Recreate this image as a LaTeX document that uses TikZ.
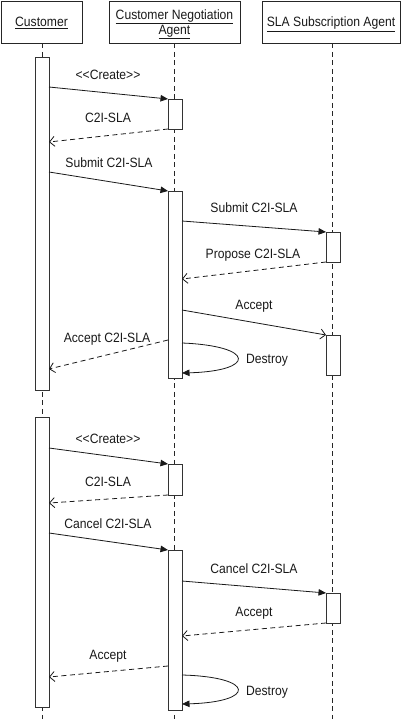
\documentclass[tikz,border=0pt]{standalone}
\usepackage{fontspec}
\setmainfont[FakeStretch=0.9]{Liberation Sans}
\usetikzlibrary{arrows.meta}
\newcommand{\ltlt}{<\kern0pt<}
\newcommand{\gtgt}{>\kern0pt>}
\begin{document}
\begin{tikzpicture}[x=1pt,y=-1pt,
  txt/.style={font=\fontsize{13.5}{15}\selectfont, text=black!90},
  lbl/.style={txt, anchor=base, inner sep=0pt},
  head/.style={txt, draw=black!85, line width=0.9pt, minimum height=42pt, inner sep=0pt, text depth=0pt, align=center},
  act/.style={draw=black!80, fill=white, line width=0.9pt, minimum width=14pt, inner sep=0pt},
  life/.style={black!85, line width=0.9pt, dash pattern=on 5pt off 3.5pt},
  sync/.style={black!90, line width=0.8pt, -{Triangle[length=7.5pt,width=6.5pt]}},
  async/.style={black!90, line width=0.8pt, -{Straight Barb[length=5pt,width=10pt]}},
  reply/.style={async, dash pattern=on 5pt off 3.5pt}]
\useasboundingbox (0,0) rectangle (405,719);
% headers
\node[head, minimum width=81pt] (hc) at (41.5,22) {\underline{Customer}};
\node[head, minimum width=131pt] (hn) at (174.5,22) {\underline{Customer Negotiation}\\\underline{Agent}};
\node[head, minimum width=138pt] (hs) at (331,22) {\underline{SLA Subscription Agent}};
% lifelines
\coordinate (ec) at (42,719);
\coordinate (en) at (174,719);
\coordinate (es) at (332,719);
\draw[life] (hc.south -| ec) -- (ec);
\draw[life] (hn.south -| en) -- (en);
\draw[life] (hs.south -| es) -- (es);
% activations
\node[act, minimum height=333pt] (c1) at (42,223.5) {};
\node[act, minimum height=290pt] (c2) at (42,562) {};
\node[act, minimum height=30pt] (n1) at (175,114) {};
\node[act, minimum height=187pt] (n2) at (175,284.5) {};
\node[act, minimum height=31pt] (n3) at (175,479.5) {};
\node[act, minimum height=160pt] (n4) at (175,630) {};
\node[act, minimum height=30pt] (s1) at (333,247) {};
\node[act, minimum height=40pt] (s2) at (333,355) {};
\node[act, minimum height=30pt] (s3) at (333,608) {};
% message end points
\coordinate (a1) at (49,87);   \coordinate (b1) at (168,99);
\coordinate (a2) at (168,129); \coordinate (b2) at (49,142);
\coordinate (a3) at (49,172);  \coordinate (b3) at (168,191);
\coordinate (a4) at (182,221); \coordinate (b4) at (326,232);
\coordinate (a5) at (326,262); \coordinate (b5) at (182,279);
\coordinate (a6) at (182,310); \coordinate (b6) at (326,335);
\coordinate (a7) at (168,340); \coordinate (b7) at (49,369);
\coordinate (a8) at (182,343); \coordinate (b8) at (182,373);
\coordinate (a9) at (49,448);  \coordinate (b9) at (168,464);
\coordinate (a10) at (168,495); \coordinate (b10) at (49,503);
\coordinate (a11) at (49,533); \coordinate (b11) at (168,550);
\coordinate (a12) at (182,581); \coordinate (b12) at (326,593);
\coordinate (a13) at (326,623); \coordinate (b13) at (182,636);
\coordinate (a14) at (168,666); \coordinate (b14) at (49,677);
\coordinate (a15) at (182,675); \coordinate (b15) at (182,704);
% messages
\draw[sync] (a1) -- (b1);
\draw[reply] (a2) -- (b2);
\draw[sync] (a3) -- (b3);
\draw[sync] (a4) -- (b4);
\draw[reply] (a5) -- (b5);
\draw[async] (a6) -- (b6);
\draw[reply] (a7) -- (b7);
\draw[sync] (a8) .. controls (256,346) and (256,371) .. (b8);
\draw[sync] (a9) -- (b9);
\draw[reply] (a10) -- (b10);
\draw[sync] (a11) -- (b11);
\draw[sync] (a12) -- (b12);
\draw[reply] (a13) -- (b13);
\draw[reply] (a14) -- (b14);
\draw[sync] (a15) .. controls (256,677) and (256,702) .. (b15);
% labels
\node[lbl] (l1) at (108,80) {\ltlt Create\gtgt};
\node[lbl] (l2) at (108,122.5) {C2I-SLA};
\node[lbl] (l3) at (109,168) {Submit C2I-SLA};
\node[lbl] (l4) at (254,213) {Submit C2I-SLA};
\node[lbl] (l5) at (253,258) {Propose C2I-SLA};
\node[lbl] (l6) at (254,309) {Accept};
\node[lbl] (l7) at (107,342) {Accept C2I-SLA};
\node[lbl] (l8) at (267,363) {Destroy};
\node[lbl] (l9) at (108,443) {\ltlt Create\gtgt};
\node[lbl] (l10) at (108,486) {C2I-SLA};
\node[lbl] (l11) at (108,528) {Cancel C2I-SLA};
\node[lbl] (l12) at (254,573) {Cancel C2I-SLA};
\node[lbl] (l13) at (254,616) {Accept};
\node[lbl] (l14) at (108,659) {Accept};
\node[lbl] (l15) at (267,695) {Destroy};
\end{tikzpicture}
\end{document}
